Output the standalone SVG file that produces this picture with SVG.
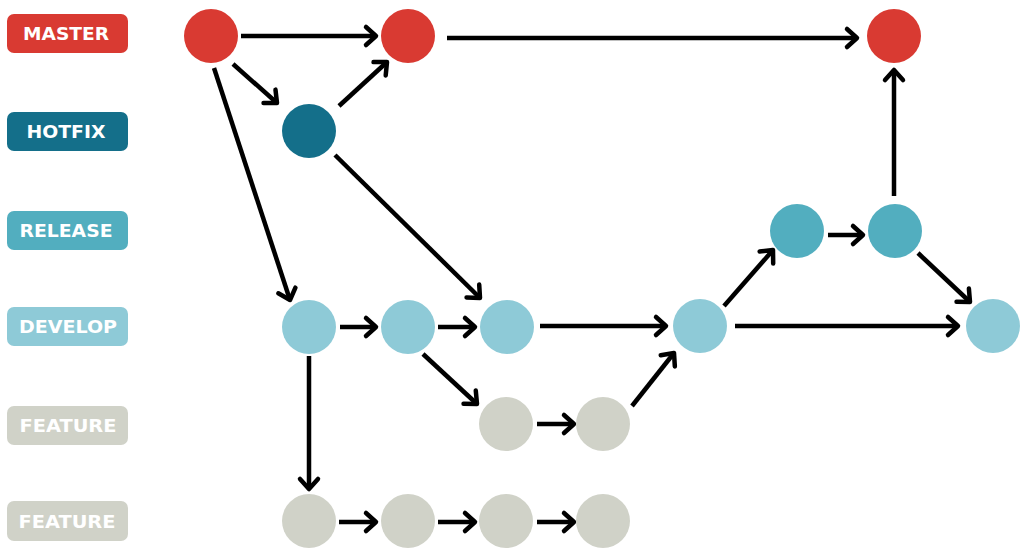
<svg xmlns="http://www.w3.org/2000/svg" width="1024" height="555" viewBox="0 0 1024 555">
<defs>
<marker id="ah" markerUnits="userSpaceOnUse" markerWidth="30" markerHeight="30" viewBox="-20 -15 30 30" refX="0" refY="0" orient="auto" overflow="visible">
<path d="M -10 -9 L 0 0 L -10 9" fill="none" stroke="#000" stroke-width="4.5" stroke-linejoin="round" stroke-linecap="round"/>
</marker>
</defs>
<style>
.lbl{font-family:"DejaVu Sans","Liberation Sans",Arial,sans-serif;font-weight:bold;font-size:18px;fill:#fff;text-anchor:middle}
.e{stroke:#000;stroke-width:4.5;fill:none;marker-end:url(#ah)}
.m{fill:#d93a32}.h{fill:#146f8a}.r{fill:#52aebf}.d{fill:#8ecad7}.f{fill:#d0d2c8}
</style>
<rect width="1024" height="555" fill="#fff"/>
<g id="labels">
<g id="lbl-master"><rect x="7" y="14" width="121" height="39" rx="7" class="m"/><text x="66" y="40" class="lbl" textLength="86" lengthAdjust="spacingAndGlyphs">MASTER</text></g>
<g id="lbl-hotfix"><rect x="7" y="112" width="121" height="39" rx="7" class="h"/><text x="66" y="138" class="lbl" textLength="79" lengthAdjust="spacingAndGlyphs">HOTFIX</text></g>
<g id="lbl-release"><rect x="7" y="211" width="121" height="39" rx="7" class="r"/><text x="66" y="237" class="lbl" textLength="93" lengthAdjust="spacingAndGlyphs">RELEASE</text></g>
<g id="lbl-develop"><rect x="7" y="307" width="121" height="39" rx="7" class="d"/><text x="68" y="333" class="lbl" textLength="98" lengthAdjust="spacingAndGlyphs">DEVELOP</text></g>
<g id="lbl-feature1"><rect x="7" y="406" width="121" height="39" rx="7" class="f"/><text x="68" y="432" class="lbl" textLength="97" lengthAdjust="spacingAndGlyphs">FEATURE</text></g>
<g id="lbl-feature2"><rect x="7" y="501" width="121" height="40" rx="7" class="f"/><text x="67" y="528" class="lbl" textLength="97" lengthAdjust="spacingAndGlyphs">FEATURE</text></g>
</g>
<g id="connectors">
<line x1="241" y1="36" x2="376" y2="36" class="e"/>
<line x1="447" y1="38" x2="857" y2="38" class="e"/>
<line x1="233" y1="64" x2="277" y2="103" class="e"/>
<line x1="339" y1="106" x2="387" y2="62" class="e"/>
<line x1="214" y1="68" x2="290" y2="300" class="e"/>
<line x1="335" y1="155" x2="480" y2="298" class="e"/>
<line x1="340" y1="327" x2="376" y2="327" class="e"/>
<line x1="438" y1="327" x2="475" y2="327" class="e"/>
<line x1="540" y1="326" x2="666" y2="326" class="e"/>
<line x1="735" y1="326" x2="958" y2="326" class="e"/>
<line x1="724" y1="306" x2="773" y2="250" class="e"/>
<line x1="828" y1="235" x2="863" y2="235" class="e"/>
<line x1="894" y1="196" x2="894" y2="70" class="e"/>
<line x1="918" y1="253" x2="970" y2="302" class="e"/>
<line x1="423" y1="354" x2="477" y2="404" class="e"/>
<line x1="537" y1="424" x2="574" y2="424" class="e"/>
<line x1="632" y1="406" x2="674" y2="353" class="e"/>
<line x1="309" y1="356" x2="309" y2="489" class="e"/>
<line x1="339" y1="522" x2="376" y2="522" class="e"/>
<line x1="438" y1="522" x2="475" y2="522" class="e"/>
<line x1="537" y1="522" x2="574" y2="522" class="e"/>
</g>
<g id="nodes">
<g id="m1"><circle cx="211" cy="36" r="27" class="m"/></g>
<g id="m2"><circle cx="408" cy="36" r="27" class="m"/></g>
<g id="m3"><circle cx="894" cy="36" r="27" class="m"/></g>
<g id="h1"><circle cx="309" cy="131" r="27" class="h"/></g>
<g id="r1"><circle cx="797" cy="231" r="27" class="r"/></g>
<g id="r2"><circle cx="895" cy="231" r="27" class="r"/></g>
<g id="d1"><circle cx="309" cy="327" r="27" class="d"/></g>
<g id="d2"><circle cx="408" cy="327" r="27" class="d"/></g>
<g id="d3"><circle cx="507" cy="327" r="27" class="d"/></g>
<g id="d4"><circle cx="700" cy="326" r="27" class="d"/></g>
<g id="d5"><circle cx="993" cy="326" r="27" class="d"/></g>
<g id="f1a"><circle cx="506" cy="424" r="27" class="f"/></g>
<g id="f1b"><circle cx="603" cy="424" r="27" class="f"/></g>
<g id="f2a"><circle cx="309" cy="521" r="27" class="f"/></g>
<g id="f2b"><circle cx="408" cy="521" r="27" class="f"/></g>
<g id="f2c"><circle cx="506" cy="521" r="27" class="f"/></g>
<g id="f2d"><circle cx="603" cy="521" r="27" class="f"/></g>
</g>
</svg>
